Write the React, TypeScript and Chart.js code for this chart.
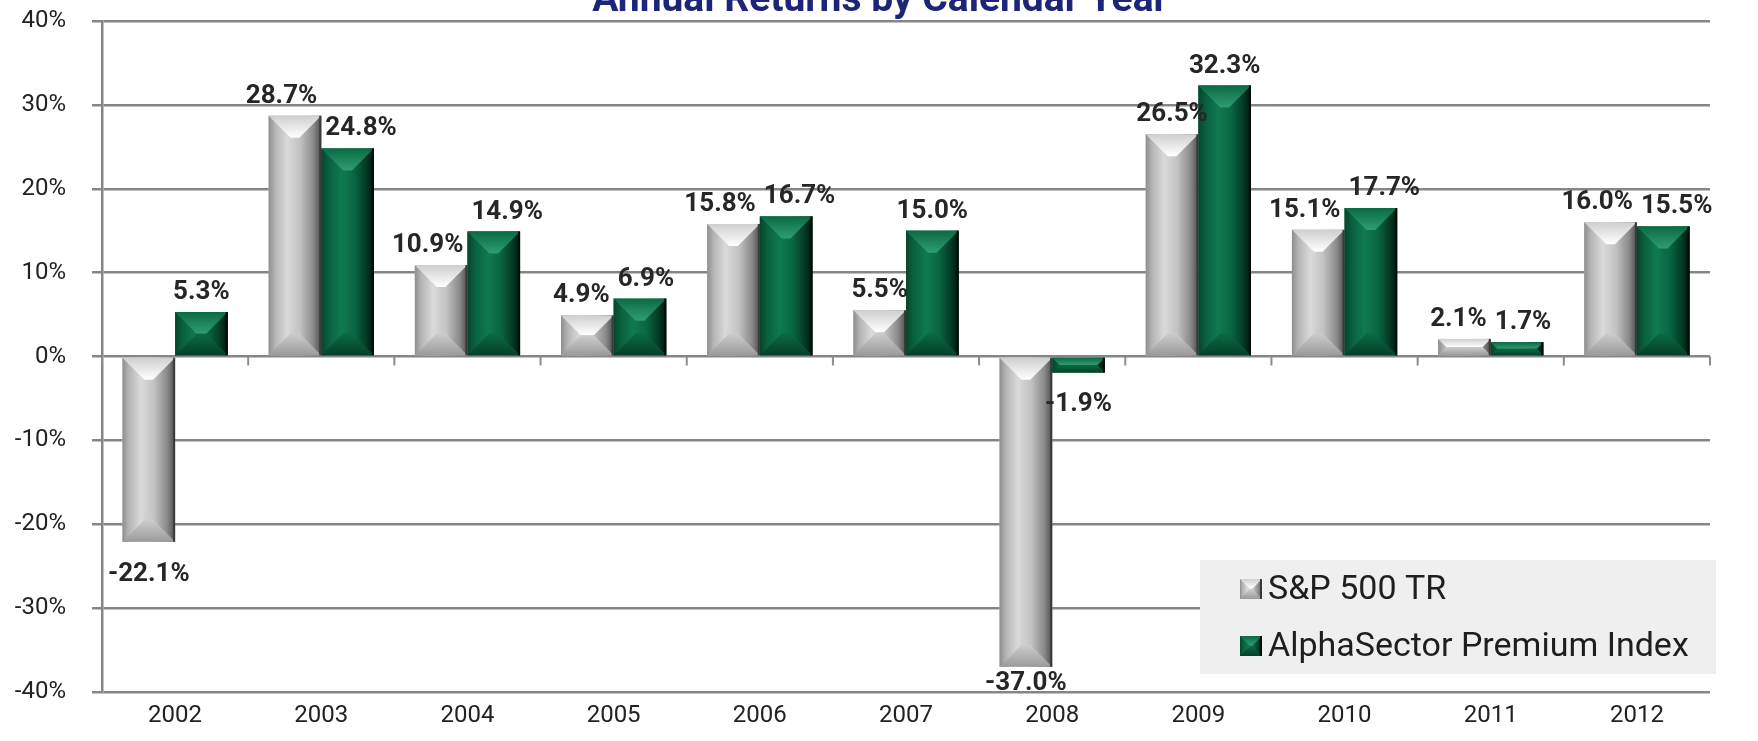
import React, { useEffect, useRef } from "react";
import { Chart, registerables } from "chart.js";

Chart.register(...registerables);

const years = ["2002", "2003", "2004", "2005", "2006", "2007", "2008", "2009", "2010", "2011", "2012"];
const sp500 = [-22.1, 28.7, 10.9, 4.9, 15.8, 5.5, -37.0, 26.5, 15.1, 2.1, 16.0];
const alphaSector = [5.3, 24.8, 14.9, 6.9, 16.7, 15.0, -1.9, 32.3, 17.7, 1.7, 15.5];
const seriesNames = ["S&P 500 TR", "AlphaSector Premium Index"];
const yMin = -40;
const yMax = 40;
const yStep = 10;
const titleText = "Annual Returns by Calendar Year";

const FONT = "Roboto, 'Open Sans', sans-serif";

type Pal = {
  body: [number, string][];
  topA: string;
  topB: string;
  botA: string;
  botB: string;
  edge: string;
};

const grayPal: Pal = {
  body: [
    [0, "#8e8e8e"],
    [0.12, "#b4b4b4"],
    [0.35, "#dadada"],
    [0.6, "#c2c2c2"],
    [0.85, "#8a8a8a"],
    [1, "#4e4e4e"],
  ],
  topA: "#cfcfcf",
  topB: "#ffffff",
  botA: "#cdcdcd",
  botB: "#9a9a9a",
  edge: "#3a3a3a",
};

const greenPal: Pal = {
  body: [
    [0, "#06452b"],
    [0.15, "#0a6140"],
    [0.38, "#0f7a50"],
    [0.62, "#0a6743"],
    [0.85, "#043b25"],
    [1, "#01150c"],
  ],
  topA: "#0b6a44",
  topB: "#2f9d72",
  botA: "#0b6a45",
  botB: "#054028",
  edge: "#000d06",
};

function drawBevel(ctx: CanvasRenderingContext2D, left: number, right: number, top: number, bottom: number, pal: Pal) {
  const w = right - left;
  const h = bottom - top;
  if (w <= 0 || h <= 0) return;
  const b = Math.min(w * 0.44, h / 2, 22);
  const g = ctx.createLinearGradient(left, 0, right, 0);
  pal.body.forEach(([s, c]) => g.addColorStop(s, c));
  ctx.fillStyle = g;
  ctx.fillRect(left, top, w, h);
  const gt = ctx.createLinearGradient(0, top, 0, top + b);
  gt.addColorStop(0, pal.topA);
  gt.addColorStop(1, pal.topB);
  ctx.fillStyle = gt;
  ctx.beginPath();
  ctx.moveTo(left, top);
  ctx.lineTo(right, top);
  ctx.lineTo(right - b, top + b);
  ctx.lineTo(left + b, top + b);
  ctx.closePath();
  ctx.fill();
  const gb = ctx.createLinearGradient(0, bottom - b, 0, bottom);
  gb.addColorStop(0, pal.botA);
  gb.addColorStop(1, pal.botB);
  ctx.fillStyle = gb;
  ctx.beginPath();
  ctx.moveTo(left, bottom);
  ctx.lineTo(right, bottom);
  ctx.lineTo(right - b, bottom - b);
  ctx.lineTo(left + b, bottom - b);
  ctx.closePath();
  ctx.fill();
  ctx.fillStyle = pal.edge;
  ctx.fillRect(right - 2, top, 2, h);
}

const pals = [grayPal, greenPal];

const bevelPlugin = {
  id: "bevelBars",
  afterDatasetsDraw(chart: any) {
    const ctx = chart.ctx as CanvasRenderingContext2D;
    ctx.save();
    chart.data.datasets.forEach((_ds: any, di: number) => {
      const meta = chart.getDatasetMeta(di);
      meta.data.forEach((el: any) => {
        const p = el.getProps(["x", "y", "base", "width"], true);
        const left = p.x - p.width / 2;
        const right = p.x + p.width / 2;
        const top = Math.min(p.y, p.base);
        const bottom = Math.max(p.y, p.base);
        drawBevel(ctx, left, right, top, bottom, pals[di]);
      });
    });
    // data labels with simple side-by-side collision avoidance
    const area = chart.chartArea;
    const H = 20;
    ctx.font = "bold 26px " + FONT;
    ctx.fillStyle = "#262626";
    ctx.textAlign = "center";
    ctx.textBaseline = "alphabetic";
    const n = years.length;
    for (let i = 0; i < n; i++) {
      const items: any[] = [];
      chart.data.datasets.forEach((ds: any, di: number) => {
        const el = chart.getDatasetMeta(di).data[i];
        const p = el.getProps(["x", "y", "base"], true);
        const v = ds.data[i] as number;
        const txt = v.toFixed(1) + "%";
        const w = ctx.measureText(txt).width;
        let base: number;
        if (v >= 0) base = p.y - 13;
        else base = Math.min(p.y + 19 + H, area.bottom - 2);
        items.push({ x: p.x, base, w, txt });
      });
      const a = items[0];
      const b = items[1];
      const vOverlap = Math.abs(a.base - b.base) < 2 * H;
      const need = (a.w + b.w) / 2 + 8 - (b.x - a.x);
      if (vOverlap && need > 0) {
        a.x -= need / 2;
        b.x += need / 2;
      }
      items.forEach((it) => ctx.fillText(it.txt, it.x, it.base));
    }
    ctx.restore();
  },
  afterDraw(chart: any) {
    const ctx = chart.ctx as CanvasRenderingContext2D;
    const xs = chart.scales.x;
    const ys = chart.scales.y;
    const y0 = ys.getPixelForValue(0);
    ctx.save();
    ctx.strokeStyle = "#8c8c8c";
    ctx.lineWidth = 2;
    for (let i = 0; i <= years.length; i++) {
      const x = xs.getPixelForValue(i - 0.5);
      ctx.beginPath();
      ctx.moveTo(x, y0);
      ctx.lineTo(x, y0 + 9);
      ctx.stroke();
    }
    // title (top clipped as in the reference)
    ctx.font = "bold 39px " + FONT;
    ctx.fillStyle = "#1c2577";
    ctx.textAlign = "center";
    ctx.textBaseline = "alphabetic";
    ctx.fillText(titleText, 880, 11);
    // legend box
    const bx = 1200;
    const by = 560;
    const bw = 516;
    const bh = 114;
    ctx.fillStyle = "#efefef";
    ctx.fillRect(bx, by, bw, bh);
    ctx.font = "34px " + FONT;
    ctx.textAlign = "left";
    ctx.textBaseline = "middle";
    seriesNames.forEach((name, k) => {
      const cy = by + 29 + k * 57;
      drawBevel(ctx, bx + 40, bx + 62, cy - 10, cy + 10, pals[k]);
      ctx.fillStyle = "#1e1e1e";
      ctx.fillText(name, bx + 68, cy + 1);
    });
    ctx.restore();
  },
};

export default function App() {
  const ref = useRef<HTMLCanvasElement | null>(null);
  useEffect(() => {
    if (!ref.current) return;
    const chart = new Chart(ref.current, {
      type: "bar",
      data: {
        labels: years,
        datasets: [
          { label: seriesNames[0], data: sp500, backgroundColor: "#bdbdbd", barPercentage: 1, categoryPercentage: 0.72 },
          { label: seriesNames[1], data: alphaSector, backgroundColor: "#0a6643", barPercentage: 1, categoryPercentage: 0.72 },
        ],
      },
      options: {
        animation: false,
        responsive: false,
        maintainAspectRatio: false,
        layout: { padding: { top: 21, right: 48, left: 0, bottom: 0 } },
        plugins: { legend: { display: false }, title: { display: false }, tooltip: { enabled: false } },
        scales: {
          x: {
            grid: { display: false, drawTicks: false },
            border: { display: false },
            ticks: { font: { family: FONT, size: 24 }, color: "#222", padding: 10 },
            afterFit(s: any) {
              s.height = 49;
            },
          },
          y: {
            min: yMin,
            max: yMax,
            ticks: {
              stepSize: yStep,
              callback: (v: any) => v + "%",
              font: { family: FONT, size: 24 },
              color: "#222",
              padding: 26,
            },
            grid: { color: "#868686", lineWidth: 2.5, tickLength: 10 },
            border: { color: "#868686", width: 2.5 },
            afterFit(s: any) {
              s.width = 102;
              s.paddingTop = 0;
              s.paddingBottom = 0;
            },
          },
        },
      },
      plugins: [bevelPlugin],
    });
    return () => chart.destroy();
  }, []);
  return (
    <div style={{ position: "fixed", left: 0, top: 0, width: 1758, height: 741, background: "#fff" }}>
      <canvas ref={ref} width={1758} height={741} style={{ display: "block", width: 1758, height: 741 }} />
    </div>
  );
}
